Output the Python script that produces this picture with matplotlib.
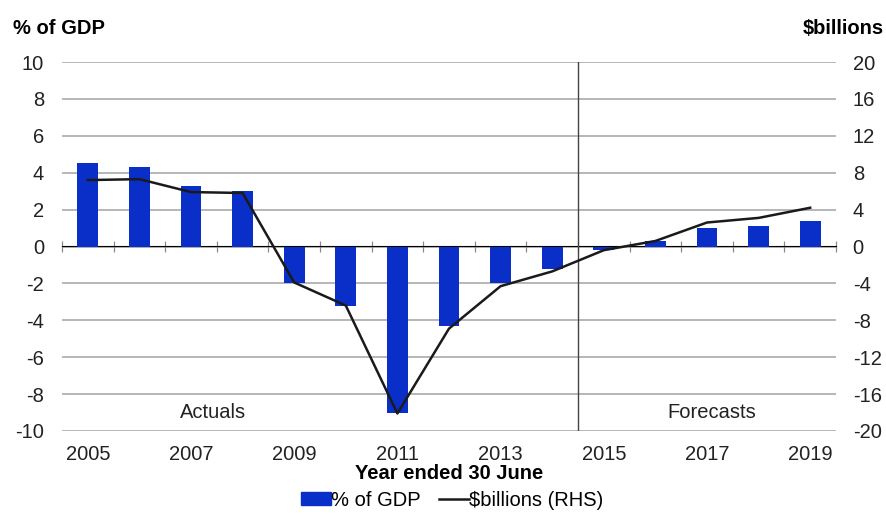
import matplotlib
matplotlib.use("Agg")
import matplotlib.pyplot as plt
import numpy as np
from matplotlib.lines import Line2D
from matplotlib.patches import Patch

plt.rcParams['font.family'] = ['Liberation Sans', 'DejaVu Sans']

years = list(range(2005, 2020))
pct_gdp = [4.5, 4.3, 3.3, 3.0, -2.0, -3.2, -9.0, -4.3, -2.0, -1.2, -0.2, 0.3, 1.0, 1.1, 1.4]
billions = [7.2, 7.3, 5.9, 5.8, -3.9, -6.4, -18.1, -8.9, -4.3, -2.7, -0.4, 0.6, 2.6, 3.1, 4.2]
left_ticks = [-10, -8, -6, -4, -2, 0, 2, 4, 6, 8, 10]
right_ticks = [-20, -16, -12, -8, -4, 0, 4, 8, 12, 16, 20]
label_years = [2005, 2007, 2009, 2011, 2013, 2015, 2017, 2019]

bar_color = '#0a2fc8'
grid_color = '#aaaaaa'
fs = 14.5

fig = plt.figure(figsize=(8.86, 5.15), dpi=100)
ax = fig.add_axes([62/886, 1-431/515, (836-62)/886, (431-62)/515])
x = np.arange(len(years))

for t in left_ticks:
    ax.axhline(t, color=grid_color, lw=1.2, zorder=0)

ax.bar(x, pct_gdp, width=0.4, color=bar_color, zorder=2)
ax.set_xlim(-0.5, len(years) - 0.5)
ax.set_ylim(-10, 10)
ax.set_yticks(left_ticks)
ax.set_yticklabels([str(t) for t in left_ticks])
ax.tick_params(axis='y', length=0, labelsize=fs, colors='#222222', pad=13)
for s in ax.spines.values():
    s.set_visible(False)

ax.set_xticks([years.index(y) for y in label_years])
ax.set_xticklabels([str(y) for y in label_years])
ax.tick_params(axis='x', length=0, labelsize=fs, colors='#222222', pad=10)
ax.set_xlabel('Year ended 30 June', fontsize=fs, fontweight='bold', labelpad=0)

# zero axis with category-boundary ticks
sec = ax.secondary_xaxis(0.5)
sec.set_xticks(np.arange(-0.5, len(years) + 0.5, 1.0))
sec.tick_params(axis='x', direction='inout', length=7, labelbottom=False, labeltop=False,
                bottom=True, color='#888888')
sec.spines['bottom'].set_color('#888888')
sec.spines['bottom'].set_linewidth(1.0)

# divider actual vs forecast
ax.axvline(years.index(2015) - 0.5, color='#444444', lw=1.0, zorder=1)

ax2 = ax.twinx()
ax2.plot(x, billions, color='#1a1a1a', lw=1.8, zorder=3)
ax2.set_ylim(-20, 20)
ax2.set_yticks(right_ticks)
ax2.set_yticklabels([str(t) for t in right_ticks])
ax2.tick_params(axis='y', length=0, labelsize=fs, colors='#222222', pad=12)
for s in ax2.spines.values():
    s.set_visible(False)

ax.text(2.43, -9.0, 'Actuals', ha='center', va='center', fontsize=fs, color='#222222')
ax.text(12.1, -9.0, 'Forecasts', ha='center', va='center', fontsize=fs, color='#222222')

fig.text(13/886, 1-28/515, '% of GDP', fontsize=fs, fontweight='bold', ha='left', va='center')
fig.text(884/886, 1-28/515, '$billions', fontsize=fs, fontweight='bold', ha='right', va='center')

handles = [Patch(color=bar_color), Line2D([0], [0], color='#1a1a1a', lw=1.8)]
fig.legend(handles, ['% of GDP', '$billions (RHS)'], loc='center', bbox_to_anchor=(452/886, 1-500/515),
           ncol=2, frameon=False, fontsize=14.5, handlelength=1.5, handletextpad=0.0,
           columnspacing=0.9, handleheight=0.6)

fig.savefig('out.png', dpi=100)
